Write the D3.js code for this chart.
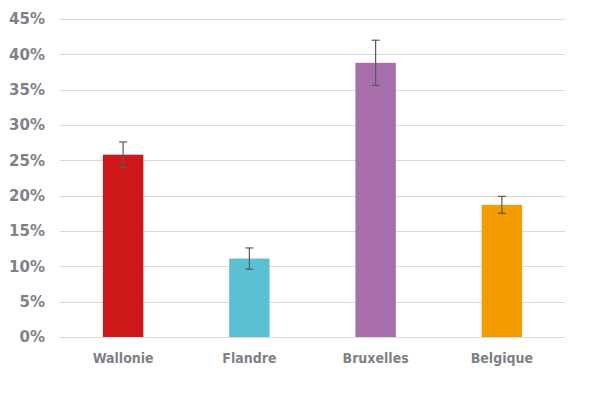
<!DOCTYPE html>
<html>
<head>
<meta charset="utf-8">
<script src="https://cdn.jsdelivr.net/npm/d3@7"></script>
<style>
  body { margin: 0; background: #fff; }
  text { font-family: "DejaVu Sans", "Liberation Sans", sans-serif; font-weight: bold; }
  .xlab text { font-stretch: condensed; }
</style>
</head>
<body>
<div id="chart"></div>
<script>
const regions = ['Wallonie', 'Flandre', 'Bruxelles', 'Belgique'];
const values = [25.8, 11.1, 38.8, 18.7];
const errors = [1.8, 1.5, 3.2, 1.2];
const colors = ['#cd1719', '#5bc0d4', '#a66fac', '#f59c00'];
const yTicks = [0, 5, 10, 15, 20, 25, 30, 35, 40, 45];

const width = 600;
const height = 395;
const margin = { top: 19, right: 35, bottom: 58, left: 60 };

const svg = d3.select('#chart')
    .append('svg')
    .attr('width', width)
    .attr('height', height);

const x = d3.scaleBand()
    .domain(regions)
    .range([margin.left, width - margin.right])
    .paddingInner(0.68)
    .paddingOuter(0.34);

const y = d3.scaleLinear()
    .domain([0, 45])
    .range([height - margin.bottom, margin.top]);

// gridlines
svg.append('g')
    .selectAll('line')
    .data(yTicks)
    .enter().append('line')
    .attr('x1', margin.left)
    .attr('x2', width - margin.right)
    .attr('y1', d => Math.round(y(d)) + 0.5)
    .attr('y2', d => Math.round(y(d)) + 0.5)
    .attr('stroke', '#d9d9d9')
    .attr('stroke-width', 1);

// y labels
const yAxis = d3.axisLeft(y)
    .tickValues(yTicks)
    .tickFormat(d => d + '%')
    .tickSize(0)
    .tickPadding(0);

svg.append('g')
    .attr('transform', `translate(${margin.left - 15},0)`)
    .call(yAxis)
    .call(g => g.select('.domain').remove())
    .selectAll('text')
    .attr('fill', '#7f8188')
    .attr('font-size', 15);

// bars
svg.append('g')
    .selectAll('rect')
    .data(regions)
    .enter().append('rect')
    .attr('x', d => x(d))
    .attr('y', (d, i) => y(values[i]))
    .attr('width', x.bandwidth())
    .attr('height', (d, i) => y(0) - y(values[i]))
    .attr('fill', (d, i) => colors[i]);

// error bars
const err = svg.append('g')
    .attr('stroke', '#595959')
    .attr('stroke-width', 1.2)
    .selectAll('g')
    .data(regions)
    .enter().append('g');

err.append('line')
    .attr('x1', d => x(d) + x.bandwidth() / 2)
    .attr('x2', d => x(d) + x.bandwidth() / 2)
    .attr('y1', (d, i) => y(values[i] + errors[i]))
    .attr('y2', (d, i) => y(values[i] - errors[i]));

[1, -1].forEach(s => {
    err.append('line')
        .attr('x1', d => x(d) + x.bandwidth() / 2 - 4)
        .attr('x2', d => x(d) + x.bandwidth() / 2 + 4)
        .attr('y1', (d, i) => y(values[i] + s * errors[i]))
        .attr('y2', (d, i) => y(values[i] + s * errors[i]));
});

// x labels
const xAxis = d3.axisBottom(x).tickSize(0).tickPadding(0);

svg.append('g')
    .attr('class', 'xlab')
    .attr('transform', `translate(0,${y(0) + 16})`)
    .call(xAxis)
    .call(g => g.select('.domain').remove())
    .selectAll('text')
    .attr('fill', '#7f8188')
    .attr('font-size', 14);
</script>
</body>
</html>
